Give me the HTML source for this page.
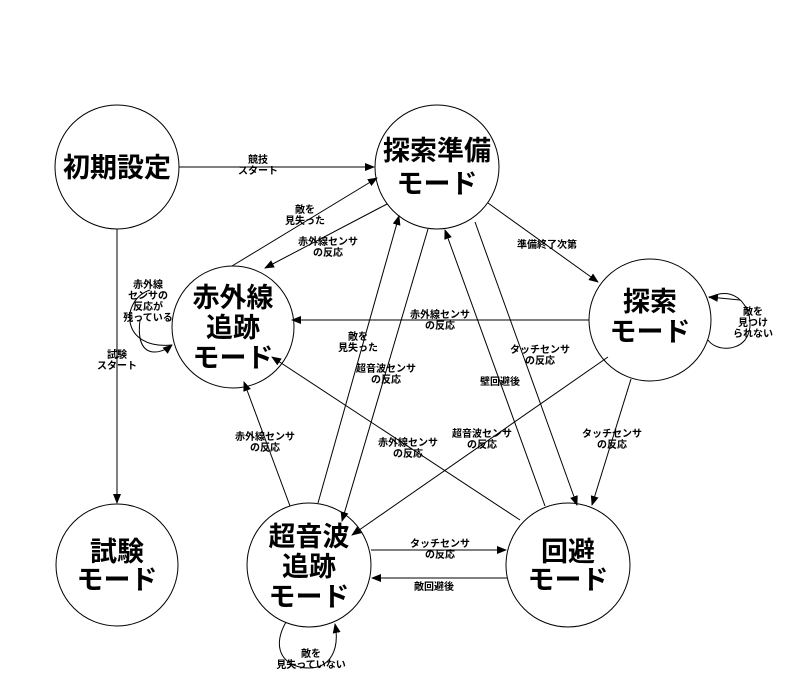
<!DOCTYPE html>
<html><head><meta charset="utf-8"><style>
html,body{margin:0;padding:0;background:#fff;}
svg{display:block;}
.n{font-family:"Liberation Sans","Noto Sans CJK JP",sans-serif;font-weight:bold;font-size:27px;text-anchor:middle;fill:#000;}
.l{font-family:"Liberation Sans","Noto Sans CJK JP",sans-serif;font-weight:bold;font-size:10px;text-anchor:middle;fill:#000;}
line,path,circle{stroke:#000;stroke-width:1;fill:none;}
</style></head><body>
<svg width="800" height="700" viewBox="0 0 800 700" xmlns="http://www.w3.org/2000/svg">
<defs><marker id="a" markerWidth="10" markerHeight="8" refX="9" refY="4" orient="auto" markerUnits="userSpaceOnUse"><path d="M0,0 L10,4 L0,8 Z" style="fill:#000;stroke:none"/></marker></defs>
<circle cx="117" cy="167" r="62"/>
<circle cx="437" cy="167" r="62"/>
<circle cx="233" cy="327" r="61"/>
<circle cx="650" cy="320" r="61"/>
<circle cx="117" cy="565" r="61"/>
<circle cx="309" cy="565" r="62"/>
<circle cx="568" cy="565" r="62"/>

<line x1="179" y1="167" x2="374" y2="167" marker-end="url(#a)"/>
<line x1="117" y1="229" x2="117" y2="503" marker-end="url(#a)"/>
<line x1="232" y1="266" x2="377" y2="178" marker-end="url(#a)"/>
<line x1="387" y1="204" x2="265" y2="268" marker-end="url(#a)"/>
<path d="M172,345 C120,350 120,300 150,290" />
<path d="M140,320 C135,360 160,355 172,345" marker-end="url(#a)"/>
<line x1="589" y1="320" x2="292" y2="320" marker-end="url(#a)"/>
<line x1="488" y1="203" x2="598" y2="282" marker-end="url(#a)"/>
<path d="M709,298 C740,280 760,320 745,340 C735,352 715,350 708,340"/>
<line x1="740" y1="300" x2="709" y2="297" marker-end="url(#a)"/>
<line x1="318" y1="503" x2="399" y2="216" marker-end="url(#a)"/>
<line x1="428" y1="229" x2="342" y2="521" marker-end="url(#a)"/>
<line x1="475" y1="222" x2="577" y2="505" marker-end="url(#a)"/>
<line x1="545" y1="506" x2="445" y2="230" marker-end="url(#a)"/>
<line x1="608" y1="357" x2="352" y2="535" marker-end="url(#a)"/>
<line x1="520" y1="520" x2="272" y2="357" marker-end="url(#a)"/>
<line x1="290" y1="506" x2="244" y2="382" marker-end="url(#a)"/>
<line x1="631" y1="379" x2="592" y2="505" marker-end="url(#a)"/>
<line x1="371" y1="550" x2="506" y2="550" marker-end="url(#a)"/>
<line x1="507" y1="578" x2="372" y2="578" marker-end="url(#a)"/>
<path d="M286,622 C270,650 285,668 309,668 C330,668 340,650 335,624" marker-end="url(#a)"/>

<text class="n" x="117" y="177">初期設定</text>
<text class="n" x="437" y="160">探索準備</text><text class="n" x="437" y="193">モード</text>
<text class="n" x="233" y="307">赤外線</text><text class="n" x="233" y="337">追跡</text><text class="n" x="233" y="367">モード</text>
<text class="n" x="650" y="311">探索</text><text class="n" x="650" y="341">モード</text>
<text class="n" x="117" y="561">試験</text><text class="n" x="117" y="589">モード</text>
<text class="n" x="309" y="546">超音波</text><text class="n" x="309" y="576">追跡</text><text class="n" x="309" y="606">モード</text>
<text class="n" x="568" y="561">回避</text><text class="n" x="568" y="589">モード</text>

<g class="l">
<text x="258" y="163">競技</text><text x="258" y="174">スタート</text>
<text x="305" y="213">敵を</text><text x="305" y="224">見失った</text>
<text x="328" y="245">赤外線センサ</text><text x="328" y="256">の反応</text>
<text x="148" y="288">赤外線</text><text x="148" y="299">センサの</text><text x="148" y="310">反応が</text><text x="148" y="321">残っている</text>
<text x="117" y="358">試験</text><text x="117" y="369">スタート</text>
<text x="547" y="248">準備終了次第</text>
<text x="753" y="315">敵を</text><text x="753" y="326">見つけ</text><text x="753" y="337">られない</text>
<text x="440" y="318">赤外線センサ</text><text x="440" y="329">の反応</text>
<text x="358" y="340">敵を</text><text x="358" y="351">見失った</text>
<text x="540" y="353">タッチセンサ</text><text x="540" y="364">の反応</text>
<text x="386" y="372">超音波センサ</text><text x="386" y="383">の反応</text>
<text x="500" y="385">壁回避後</text>
<text x="265" y="440">赤外線センサ</text><text x="265" y="451">の反応</text>
<text x="408" y="446">赤外線センサ</text><text x="408" y="457">の反応</text>
<text x="482" y="437">超音波センサ</text><text x="482" y="448">の反応</text>
<text x="612" y="437">タッチセンサ</text><text x="612" y="448">の反応</text>
<text x="440" y="547">タッチセンサ</text><text x="440" y="558">の反応</text>
<text x="434" y="590">敵回避後</text>
<text x="311" y="657">敵を</text><text x="311" y="668">見失っていない</text>
</g>
</svg>
</body></html>
